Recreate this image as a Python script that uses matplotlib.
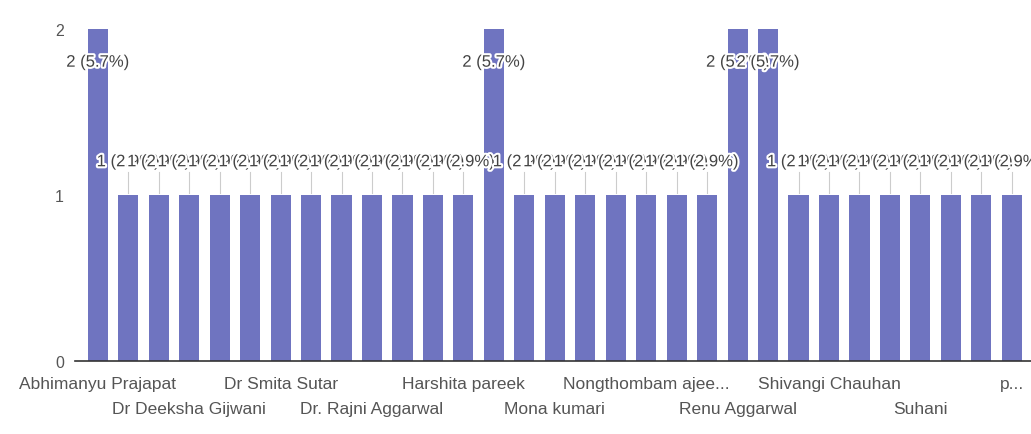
import matplotlib
matplotlib.use("Agg")
import matplotlib.pyplot as plt
import matplotlib.patheffects as pe

# ---- data ----
counts = [2, 1, 1, 1, 1, 1, 1, 1, 1, 1, 1, 1, 1, 2, 1, 1, 1, 1, 1, 1, 1,
          2, 2, 1, 1, 1, 1, 1, 1, 1, 1]
tick_positions = [0, 3, 6, 9, 12, 15, 18, 21, 24, 27, 30]
tick_labels = ["Abhimanyu Prajapat", "Dr Deeksha Gijwani", "Dr Smita Sutar",
               "Dr. Rajni Aggarwal", "Harshita pareek", "Mona kumari",
               "Nongthombam ajee...", "Renu Aggarwal", "Shivangi Chauhan",
               "Suhani", "p..."]
y_ticks = [0, 1, 2]

plt.rcParams['font.family'] = ['Liberation Sans', 'DejaVu Sans']

total = sum(counts)
bar_color = "#6f74c0"

fig = plt.figure(figsize=(10.31, 4.35), dpi=100)
ax = fig.add_axes([0.0727, 0.168, 0.927, 0.763])

x = list(range(len(counts)))
ax.bar(x, counts, width=0.66, color=bar_color, zorder=2)

ax.set_xlim(-0.75, 30.62)
ax.set_ylim(0, 2)

# annotations
halo = [pe.withStroke(linewidth=3, foreground="white")]
for i, c in enumerate(counts):
    pct = 100.0 * c / total
    label = f"{c} ({pct:.1f}%)"
    if c >= 2:
        ax.text(i, c - 0.2, label, ha="center", va="center", fontsize=12,
                color="#444444", path_effects=halo, zorder=5)
    else:
        ax.plot([i, i], [c + 0.01, c + 0.14], color="#cccccc", lw=0.8, zorder=3)
        ax.text(i, c + 0.2, label, ha="center", va="center", fontsize=12,
                color="#444444", path_effects=halo, zorder=5)

# axes styling
for s in ["top", "right", "left"]:
    ax.spines[s].set_visible(False)
ax.spines["bottom"].set_color("#333333")
ax.spines["bottom"].set_linewidth(1.2)

ax.set_yticks(y_ticks)
ax.set_yticklabels([str(v) for v in y_ticks], fontsize=11.5, color="#555555")
ax.tick_params(axis="y", length=0, pad=8)

ax.set_xticks(tick_positions)
ax.set_xticklabels([])
ax.tick_params(axis="x", length=0)
for k, (p, lab) in enumerate(zip(tick_positions, tick_labels)):
    offset = -23 if k % 2 == 0 else -48
    ax.annotate(lab, xy=(p, 0), xycoords="data", xytext=(0, offset),
                textcoords="offset pixels",
                ha="center", va="center", fontsize=12.5, color="#555555",
                annotation_clip=False)

fig.savefig("out.png", dpi=100, facecolor="white")
